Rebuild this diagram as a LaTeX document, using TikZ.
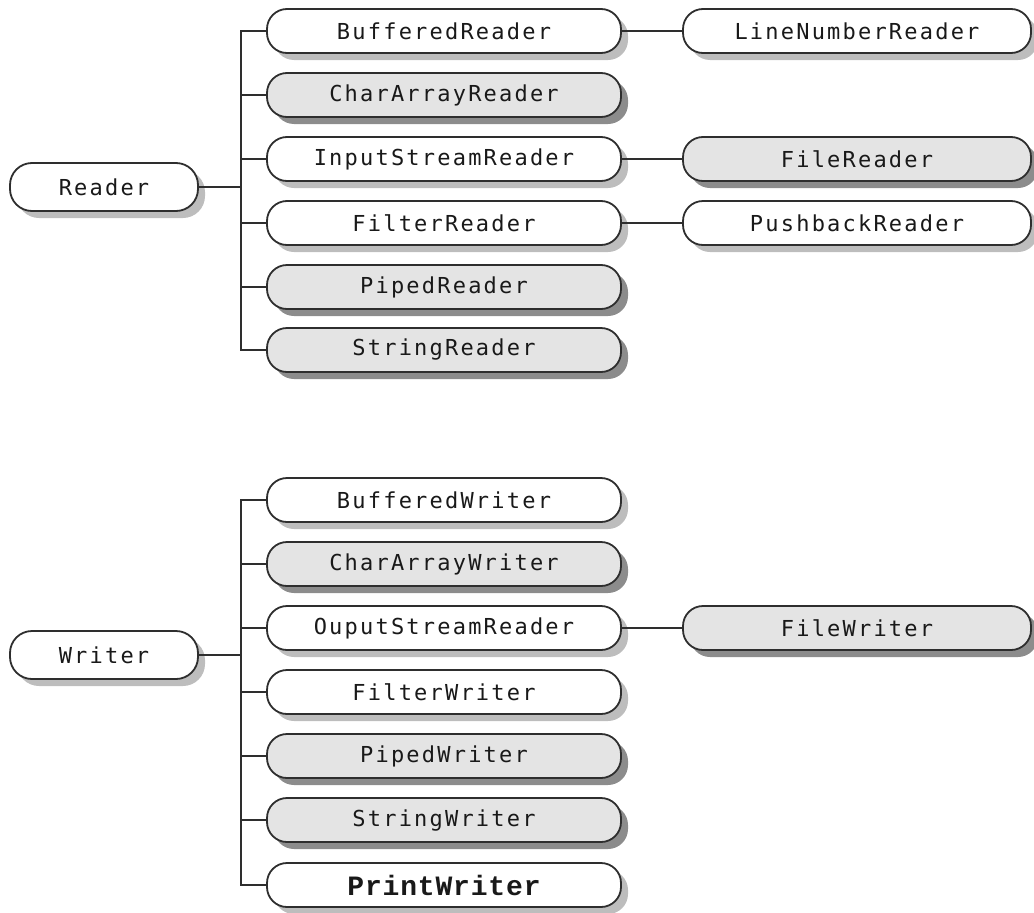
\documentclass[tikz,border=0pt]{standalone}
\usepackage{fontspec}
\usetikzlibrary{shadows}
\newfontfamily\boxfont[LetterSpace=10]{DejaVu Sans Mono}
\newfontfamily\printfont[LetterSpace=3]{Liberation Mono Bold}
\definecolor{linec}{HTML}{2E2E2E}
\definecolor{fillg}{HTML}{E4E4E4}
\definecolor{shadl}{HTML}{BDBDBD}
\definecolor{shadd}{HTML}{8C8C8C}
\tikzset{
  cls/.style={draw=linec, line width=1.8pt, rounded corners=20pt, inner sep=0pt, outer sep=0pt,
    minimum height=44pt, text=black!90, font=\boxfont\fontsize{22}{26}\selectfont},
  plain/.style={cls, fill=white, drop shadow={shadow xshift=7pt, shadow yshift=-7pt, fill=shadl, opacity=1}},
  shaded/.style={cls, fill=fillg, drop shadow={shadow xshift=7pt, shadow yshift=-7pt, fill=shadd, opacity=1}},
  mid/.style={minimum width=354pt},
  far/.style={minimum width=348pt},
  root/.style={minimum width=188pt, minimum height=48pt, rounded corners=22pt},
  conn/.style={draw=linec, line width=1.6pt},
}
\begin{document}
\begin{tikzpicture}[x=1pt,y=-1pt]
\useasboundingbox (0,0) rectangle (1034,913);
% Reader tree
\node[plain,root] (reader) at (104,187) {Reader};
\node[plain,mid]  (r1) at (444,31)  {BufferedReader};
\node[shaded,mid] (r2) at (444,95)  {CharArrayReader};
\node[plain,mid]  (r3) at (444,159) {InputStreamReader};
\node[plain,mid]  (r4) at (444,223) {FilterReader};
\node[shaded,mid] (r5) at (444,287) {PipedReader};
\node[shaded,mid] (r6) at (444,350) {StringReader};
\node[plain,far]  (lnr) at (857,31)  {LineNumberReader};
\node[shaded,far] (fr)  at (857,159) {FileReader};
\node[plain,far]  (pbr) at (857,223) {PushbackReader};
\coordinate (tr) at (241,0);
\draw[conn] (reader.east) -- (reader.east -| tr);
\draw[conn] (r1.west) -- (r1.west -| tr) -- (r6.west -| tr) -- (r6.west);
\foreach \n in {r2,r3,r4,r5} \draw[conn] (\n.west) -- (\n.west -| tr);
\draw[conn] (r1.east) -- (lnr.west);
\draw[conn] (r3.east) -- (fr.west);
\draw[conn] (r4.east) -- (pbr.west);
% Writer tree
\node[plain,root] (writer) at (104,655) {Writer};
\node[plain,mid]  (w1) at (444,500) {BufferedWriter};
\node[shaded,mid] (w2) at (444,564) {CharArrayWriter};
\node[plain,mid]  (w3) at (444,628) {OuputStreamReader};
\node[plain,mid]  (w4) at (444,692) {FilterWriter};
\node[shaded,mid] (w5) at (444,756) {PipedWriter};
\node[shaded,mid] (w6) at (444,820) {StringWriter};
\node[plain,mid,font=\printfont\fontsize{28}{30}\selectfont] (w7) at (444,885) {PrintWriter};
\node[shaded,far] (fw) at (857,628) {FileWriter};
\coordinate (tw) at (241,0);
\draw[conn] (writer.east) -- (writer.east -| tw);
\draw[conn] (w1.west) -- (w1.west -| tw) -- (w7.west -| tw) -- (w7.west);
\foreach \n in {w2,w3,w4,w5,w6} \draw[conn] (\n.west) -- (\n.west -| tw);
\draw[conn] (w3.east) -- (fw.west);
\end{tikzpicture}
\end{document}
